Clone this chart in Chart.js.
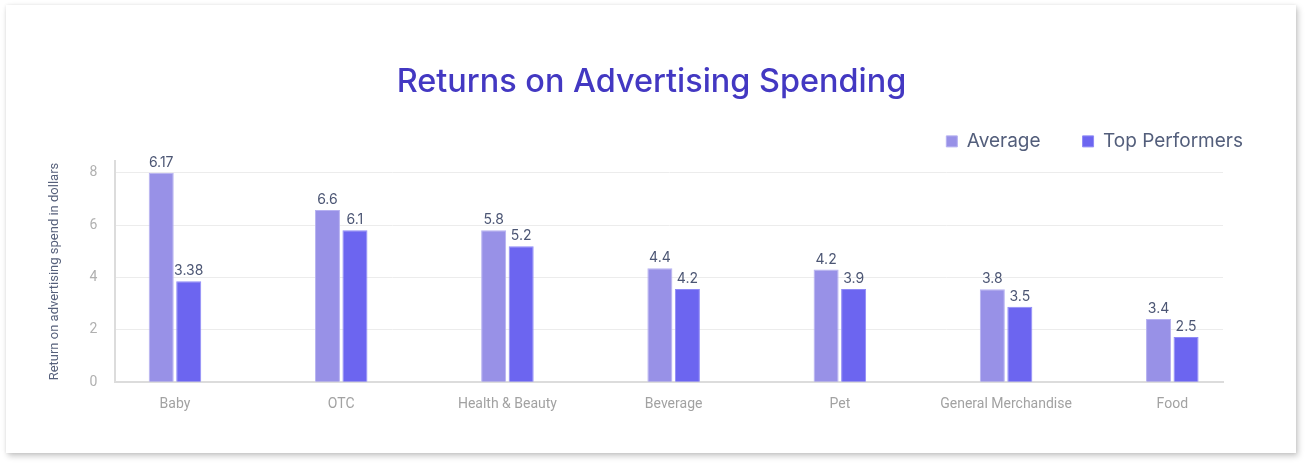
<!DOCTYPE html>
<html lang="en">
<head>
    <meta charset="UTF-8">
    <title>Returns on Advertising Spending</title>
    <script src="https://cdn.jsdelivr.net/npm/chart.js"></script>
    <style>
        html, body {
            margin: 0;
            padding: 0;
            background: #ffffff;
        }
        .card {
            position: absolute;
            left: 6px;
            top: 5px;
            width: 1290px;
            height: 448px;
            background: #ffffff;
            box-shadow: 2px 3px 6px rgba(0, 0, 0, 0.22), 0 0 3px rgba(0, 0, 0, 0.08);
        }
    </style>
</head>
<body>
    <div class="card">
        <canvas id="roasChart" width="1290" height="448"></canvas>
    </div>

    <script>
        // Categorias y valores
        const categories = ['Baby', 'OTC', 'Health & Beauty', 'Beverage', 'Pet', 'General Merchandise', 'Food'];
        // altura de las barras (segun el eje)
        const averageValues = [8.0, 6.57, 5.8, 4.35, 4.3, 3.55, 2.41];
        const topValues = [3.85, 5.8, 5.19, 3.56, 3.56, 2.88, 1.73];
        // etiquetas impresas encima de las barras
        const averageLabels = ['6.17', '6.6', '5.8', '4.4', '4.2', '3.8', '3.4'];
        const topLabels = ['3.38', '6.1', '5.2', '4.2', '3.9', '3.5', '2.5'];
        const yTicks = [0, 2, 4, 6, 8];

        // Dibuja el texto encima de cada barra
        const barLabelsPlugin = {
            id: 'barLabels',
            afterDatasetsDraw(chart) {
                const ctx = chart.ctx;
                ctx.save();
                ctx.font = '14px Inter, sans-serif';
                ctx.fillStyle = '#4c5674';
                ctx.textAlign = 'center';
                ctx.textBaseline = 'alphabetic';
                chart.data.datasets.forEach((ds, di) => {
                    const meta = chart.getDatasetMeta(di);
                    meta.data.forEach((bar, i) => {
                        ctx.fillText(ds.valueLabels[i], bar.x, bar.y - 6);
                    });
                });
                ctx.restore();
            }
        };

        const ctx = document.getElementById('roasChart').getContext('2d');
        new Chart(ctx, {
            type: 'bar',
            data: {
                datasets: [{
                    label: 'Average',
                    data: averageValues.map((v, i) => ({ x: i, y: v })),
                    valueLabels: averageLabels,
                    backgroundColor: '#9891e7',
                    borderColor: '#b6b1f1',
                    borderWidth: 1
                }, {
                    label: 'Top Performers',
                    data: topValues.map((v, i) => ({ x: i, y: v })),
                    valueLabels: topLabels,
                    backgroundColor: '#6c65f0',
                    borderColor: '#8f8af6',
                    borderWidth: 1
                }]
            },
            options: {
                responsive: false,
                animation: false,
                categoryPercentage: 0.331,
                barPercentage: 0.91,
                layout: {
                    padding: { left: 12, right: 11, top: 0, bottom: 26 }
                },
                plugins: {
                    title: {
                        display: true,
                        text: 'Returns on Advertising Spending',
                        color: '#4338c2',
                        font: { family: 'Inter', size: 32.4, weight: '500' },
                        padding: { top: 58, bottom: -12 }
                    },
                    legend: {
                        align: 'end',
                        labels: {
                            color: '#535e7b',
                            font: { family: 'Inter', size: 19 },
                            boxWidth: 11,
                            boxHeight: 11,
                            padding: 42
                        }
                    },
                    tooltip: { enabled: false }
                },
                scales: {
                    x: {
                        type: 'linear',
                        offset: false,
                        min: -0.358,
                        max: 6.305,
                        grid: { display: false, drawTicks: false },
                        border: { color: '#dcdcdc', width: 2 },
                        ticks: {
                            stepSize: 1,
                            includeBounds: false,
                            autoSkip: false,
                            maxRotation: 0,
                            padding: 14,
                            color: '#a2a2a2',
                            font: { family: 'Roboto', size: 14 },
                            callback: value => categories[value] ?? ''
                        }
                    },
                    y: {
                        min: 0,
                        max: 8.45,
                        grid: { color: '#ececec', lineWidth: 1, drawTicks: false },
                        border: { color: '#dcdcdc', width: 2 },
                        afterBuildTicks: axis => {
                            axis.ticks = yTicks.map(v => ({ value: v }));
                        },
                        ticks: {
                            padding: 18,
                            color: '#b0b0b0',
                            font: { family: 'Roboto', size: 14 }
                        },
                        title: {
                            display: true,
                            text: 'Return on advertising spend in dollars',
                            color: '#56607b',
                            font: { family: 'Roboto', size: 13 },
                            padding: { top: 29, bottom: 9 }
                        }
                    },
                    yRight: {
                        position: 'right',
                        display: true,
                        grid: { display: false },
                        border: { display: false },
                        ticks: { display: false },
                        afterFit: axis => {
                            axis.width = 62;
                        }
                    }
                }
            },
            plugins: [barLabelsPlugin]
        });
    </script>
</body>
</html>
